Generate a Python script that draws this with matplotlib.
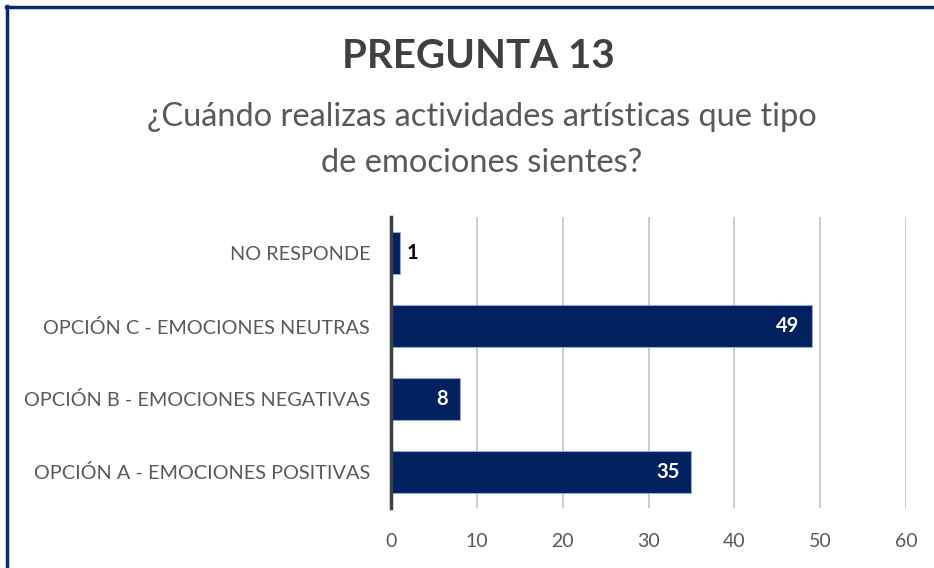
import matplotlib

matplotlib.use("Agg")

import matplotlib.pyplot as plt
from matplotlib.lines import Line2D

categories = [
    "OPCIÓN A - EMOCIONES POSITIVAS",
    "OPCIÓN B - EMOCIONES NEGATIVAS",
    "OPCIÓN C - EMOCIONES NEUTRAS",
    "NO RESPONDE",
]
counts = [35, 8, 49, 1]
x_ticks = [0, 10, 20, 30, 40, 50, 60]

title = "PREGUNTA 13"
subtitle = "¿Cuándo realizas actividades artísticas que tipo\nde emociones sientes?"

plt.rcParams["font.family"] = ["Lato", "DejaVu Sans"]

navy = "#002060"
text_gray = "#595959"

fig = plt.figure(figsize=(9.34, 5.68), dpi=100)
ax = fig.add_axes([391 / 934, 1 - 508 / 568, (906 - 391) / 934, (508 - 217) / 568])

y_pos = range(len(categories))
bars = ax.barh(y_pos, counts, height=0.58, color=navy, edgecolor="#8FAADC", linewidth=0.8, zorder=3)

for bar, value in zip(bars, counts):
    y = bar.get_y() + bar.get_height() / 2
    if value < 4:
        ax.text(value + 0.8, y, str(value), va="center", ha="left",
                fontsize=14.5, fontweight="bold", color="black", zorder=4)
    else:
        ax.text(value - 1.4, y, str(value), va="center", ha="right",
                fontsize=14.5, fontweight="bold", color="white", zorder=4)

ax.set_xlim(0, 60)
ax.set_ylim(-0.5, len(categories) - 0.5)
ax.set_xticks(x_ticks)
ax.set_yticks(list(y_pos))
ax.set_yticklabels(categories)
ax.grid(axis="x", color="#c8c8c8", linewidth=1.3, zorder=0)
ax.tick_params(axis="both", length=0, labelcolor=text_gray)
ax.tick_params(axis="x", pad=18, labelsize=14)
ax.tick_params(axis="y", pad=15, labelsize=14.3)

for side in ["top", "right", "bottom"]:
    ax.spines[side].set_visible(False)
ax.spines["left"].set_color("#404040")
ax.spines["left"].set_linewidth(2.5)
ax.spines["left"].set_zorder(5)

fig.text(478 / 934, 1 - 57 / 568, title, ha="center", va="center",
         fontsize=29, fontweight="bold", color="#404040")
fig.text(482 / 934, 1 - 140 / 568, subtitle, ha="center", va="center",
         fontsize=23.5, color=text_gray, linespacing=1.65)

# border of the cropped chart frame: top and left edges only
fig.add_artist(Line2D([6 / 934, 1], [1 - 7 / 568, 1 - 7 / 568], color="#0b2a6b", linewidth=2.5))
fig.add_artist(Line2D([7 / 934, 7 / 934], [0, 1 - 6 / 568], color="#0b2a6b", linewidth=2.5))

fig.savefig("out.png", dpi=100)
plt.close(fig)
